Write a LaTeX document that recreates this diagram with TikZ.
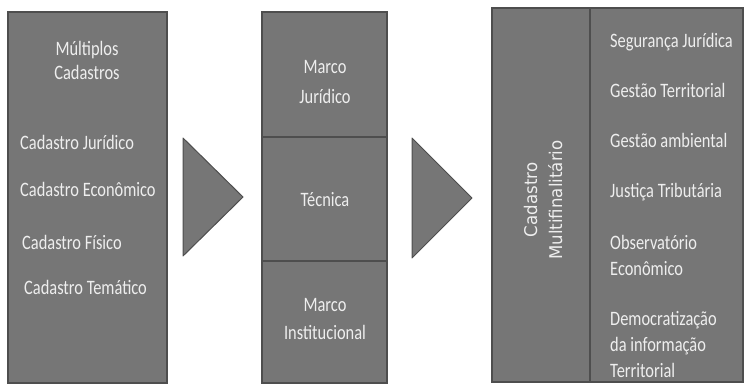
\documentclass[tikz,border=0pt]{standalone}
\usepackage{fontspec}
\setmainfont{Carlito}[FakeStretch=0.8]
\newfontfamily\rotfont{DejaVu Sans}[FakeStretch=0.95]
\usepackage{tikz}
\usetikzlibrary{positioning}
\usepackage{xcolor}
\definecolor{cdfill}{RGB}{118,118,118}
\definecolor{cdborder}{RGB}{78,78,78}
\definecolor{cdtext}{RGB}{238,238,238}
\tikzstyle{panel} = [rectangle, draw=cdborder, fill=cdfill, line width=1.5pt, outer sep=0pt, inner sep=0pt]
\tikzstyle{itemtext} = [text=cdtext, inner sep=0pt, font=\fontsize{20.5}{24}\selectfont]
\tikzstyle{arrowtri} = [draw=cdborder, fill=cdfill, line width=1pt, line join=round]

\begin{document}
\begin{tikzpicture}[x=1pt,y=-1pt]
\useasboundingbox (0,0) rectangle (746,384);
\node[panel, anchor=north west, minimum width=159pt, minimum height=371pt] (cadastros) at (8,12) {};
\node[panel, anchor=north west, minimum width=125pt, minimum height=125pt] (juridico) at (262,12) {};
\node[panel, below=0pt of juridico, minimum width=125pt, minimum height=124pt] (tecnica) {};
\node[panel, below=0pt of tecnica, minimum width=125pt, minimum height=122pt] (institucional) {};
\node[panel, anchor=north west, minimum width=98pt, minimum height=374pt] (multi) at (492,8) {};
\node[panel, right=0pt of multi, minimum width=153pt, minimum height=374pt] (usos) {};

\draw[arrowtri] (183,138) -- (243,197) -- (183,256) -- cycle;
\draw[arrowtri] (412,138) -- (472,198) -- (412,258) -- cycle;

\node[itemtext, align=center] (multiplos) at (87,60) {Múltiplos\\Cadastros};
\node[itemtext, anchor=west] (cjur) at (20,142) {Cadastro Jurídico};
\node[itemtext, anchor=west] (ceco) at (20,189) {Cadastro Econômico};
\node[itemtext, anchor=west] (cfis) at (22,242) {Cadastro Físico};
\node[itemtext, anchor=west] (ctem) at (24,287) {Cadastro Temático};

\node[itemtext, align=center, font=\fontsize{20.5}{30}\selectfont] (mjur) at (325,82) {Marco\\Jurídico};
\node[itemtext] (tec) at (325,200) {Técnica};
\node[itemtext, align=center, font=\fontsize{20.5}{28}\selectfont] (minst) at (325,319) {Marco\\Institucional};

\node[itemtext, rotate=90, align=center, font=\rotfont\fontsize{17.5}{25}\selectfont] (multitext) at (543,200) {Cadastro\\Multifinalitário};

\node[itemtext, anchor=west] (seg) at (610,42) {Segurança Jurídica};
\node[itemtext, anchor=west] (gter) at (610,90) {Gestão Territorial};
\node[itemtext, anchor=west] (gamb) at (610,140) {Gestão ambiental};
\node[itemtext, anchor=west] (jtrib) at (610,192) {Justiça Tributária};
\node[itemtext, anchor=west, align=left, font=\fontsize{20.5}{26}\selectfont] (obs) at (610,255) {Observatório\\Econômico};
\node[itemtext, anchor=west, align=left, font=\fontsize{20.5}{26}\selectfont] (demo) at (610,344) {Democratização\\da informação\\Territorial};
\end{tikzpicture}
\end{document}
